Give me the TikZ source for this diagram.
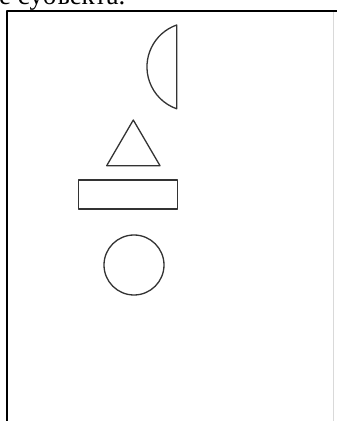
\documentclass[tikz,border=0pt]{standalone}
\usepackage{fontspec}
\setmainfont{Liberation Serif}
\begin{document}
\begin{tikzpicture}[x=1pt, y=1pt, line join=round,
		figure/.style={draw=black!80, line width=1.3pt},
		edge/.style={line width=1.8pt}]
	% 1. page area (the shot is cut on every side)
	\useasboundingbox (0,0) rectangle (337,421);
	\clip (0,0) rectangle (337,421);
	\fill[white] (0,0) rectangle (337,421);
	
	% 2. cut-off text line and the frame
	\node[anchor=base west, inner sep=0pt, font=\fontsize{27}{30}\selectfont] (caption) at (-1,416) {е субъекта.};
	\draw[black!15, line width=1pt] (333,410) -- (333,-2);
	\draw[edge] (7,-2) -- (7,410) -- (340,410);
	
	% 3. figures
	% half disk: chord at x=176.7, centre (191.4,354), r=44.4
	\draw[figure] (176.7,396) arc[start angle=109.3, end angle=250.7, radius=44.4] -- cycle;
	\draw[figure] (133.3,301) -- (160,255.3) -- (106.7,255.3) -- cycle;
	\draw[figure] (78.3,212) rectangle (177.3,241);
	\draw[figure] (134,156) circle[radius=30];
\end{tikzpicture}
\end{document}
